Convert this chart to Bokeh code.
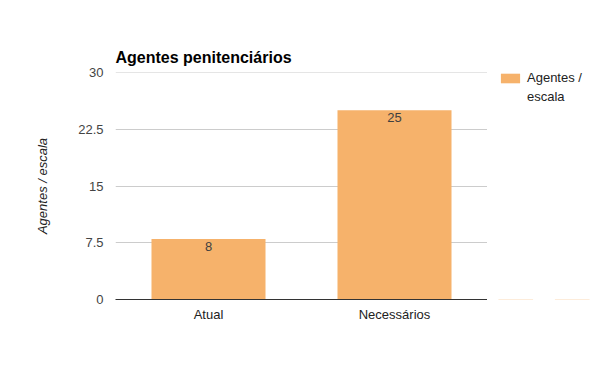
from bokeh.plotting import figure
from bokeh.layouts import row
from bokeh.models import ColumnDataSource, FixedTicker, Legend, LegendItem, Range1d, FactorRange
from bokeh.core.properties import value
from bokeh.embed import file_html
from bokeh.resources import INLINE

categories = ["Atual", "Necessários"]
values = [8, 25]
labels = ["8", "25"]
y_ticks = [0, 7.5, 15, 22.5, 30]
y_tick_labels = ["0", "7.5", "15", "22.5", "30"]
series_name = "Agentes / escala"
legend_lines = ["Agentes /", "escala"]
title_text = "Agentes penitenciários"

FONT = "Liberation Sans"
BAR = "#f6b26b"

src = ColumnDataSource(dict(cat=categories, val=values, lab=labels))

p = figure(width=487, height=355, output_backend="svg", toolbar_location=None,
           x_range=FactorRange(*categories, range_padding=0),
           y_range=Range1d(0, max(y_ticks) + 1e-6),
           min_border_left=115, min_border_right=0, min_border_bottom=56, min_border_top=72)
p.outline_line_color = None
p.background_fill_color = "white"
p.border_fill_color = "white"

p.title.text = title_text
p.title.align = "left"
p.title.text_font = FONT
p.title.text_font_size = "16px"
p.title.text_font_style = "bold"
p.title.text_color = "#000000"
p.title.offset = 0
p.title.standoff = 14

r = p.vbar(x="cat", top="val", width=0.613, source=src, fill_color=BAR, line_color=None)
p.text(x="cat", y="val", text="lab", source=src, text_align="center", text_baseline="top",
       y_offset=3, text_font=value(FONT), text_font_size="13px", text_color="#404040")

# y axis
p.yaxis.ticker = FixedTicker(ticks=y_ticks)
p.yaxis.major_label_overrides = {t: l for t, l in zip(y_ticks, y_tick_labels)}
p.yaxis.axis_line_color = None
p.yaxis.major_tick_line_color = None
p.yaxis.major_tick_out = 0
p.yaxis.major_tick_in = 0
p.yaxis.minor_tick_line_color = None
p.yaxis.major_label_text_font = FONT
p.yaxis.major_label_text_font_size = "13px"
p.yaxis.major_label_text_color = "#444444"
p.yaxis.major_label_standoff = 12
p.yaxis.axis_label = series_name
p.yaxis.axis_label_text_font = FONT
p.yaxis.axis_label_text_font_size = "13px"
p.yaxis.axis_label_text_font_style = "italic"
p.yaxis.axis_label_text_color = "#222222"
p.yaxis.axis_label_standoff = 25
p.ygrid.grid_line_color = "#cccccc"
p.xgrid.grid_line_color = None

# x axis
p.xaxis.axis_line_color = "#333333"
p.xaxis.major_tick_line_color = None
p.xaxis.major_tick_out = 0
p.xaxis.major_tick_in = 0
p.xaxis.minor_tick_line_color = None
p.xaxis.major_label_text_font = FONT
p.xaxis.major_label_text_font_size = "13px"
p.xaxis.major_label_text_color = "#222222"
p.xaxis.major_label_standoff = 7

# legend panel (separate figure to the right, frame aligned with the main plot);
# its bars have zero height and lie outside its visible range, so only the legend shows
p2 = figure(width=113, height=355, output_backend="svg", toolbar_location=None,
            x_range=FactorRange(*categories), y_range=Range1d(1000, 1001),
            x_axis_type=None, y_axis_type=None, min_border=0)
p2.outline_line_color = None
p2.xgrid.visible = False
p2.ygrid.visible = False
lr = p2.vbar(x="cat", bottom="val", top="val", width=0.613, source=src,
             fill_color=BAR, line_color=None)
lb = p2.vbar(x="cat", bottom="val", top="val", width=0.613, source=src,
             fill_alpha=0, line_alpha=0)
legend = Legend(items=[LegendItem(label=legend_lines[0], renderers=[lr]),
                       LegendItem(label=legend_lines[1], renderers=[lb])],
                location=(11, 195), glyph_width=24, glyph_height=12,
                label_text_font=FONT, label_text_font_size="13px", label_text_color="#222222",
                border_line_color=None, background_fill_alpha=0,
                padding=0, margin=0, spacing=4, label_standoff=5)
p2.add_layout(legend, "center")

layout = row(p, p2, spacing=0)
open("out.html", "w").write(file_html(layout, INLINE))
